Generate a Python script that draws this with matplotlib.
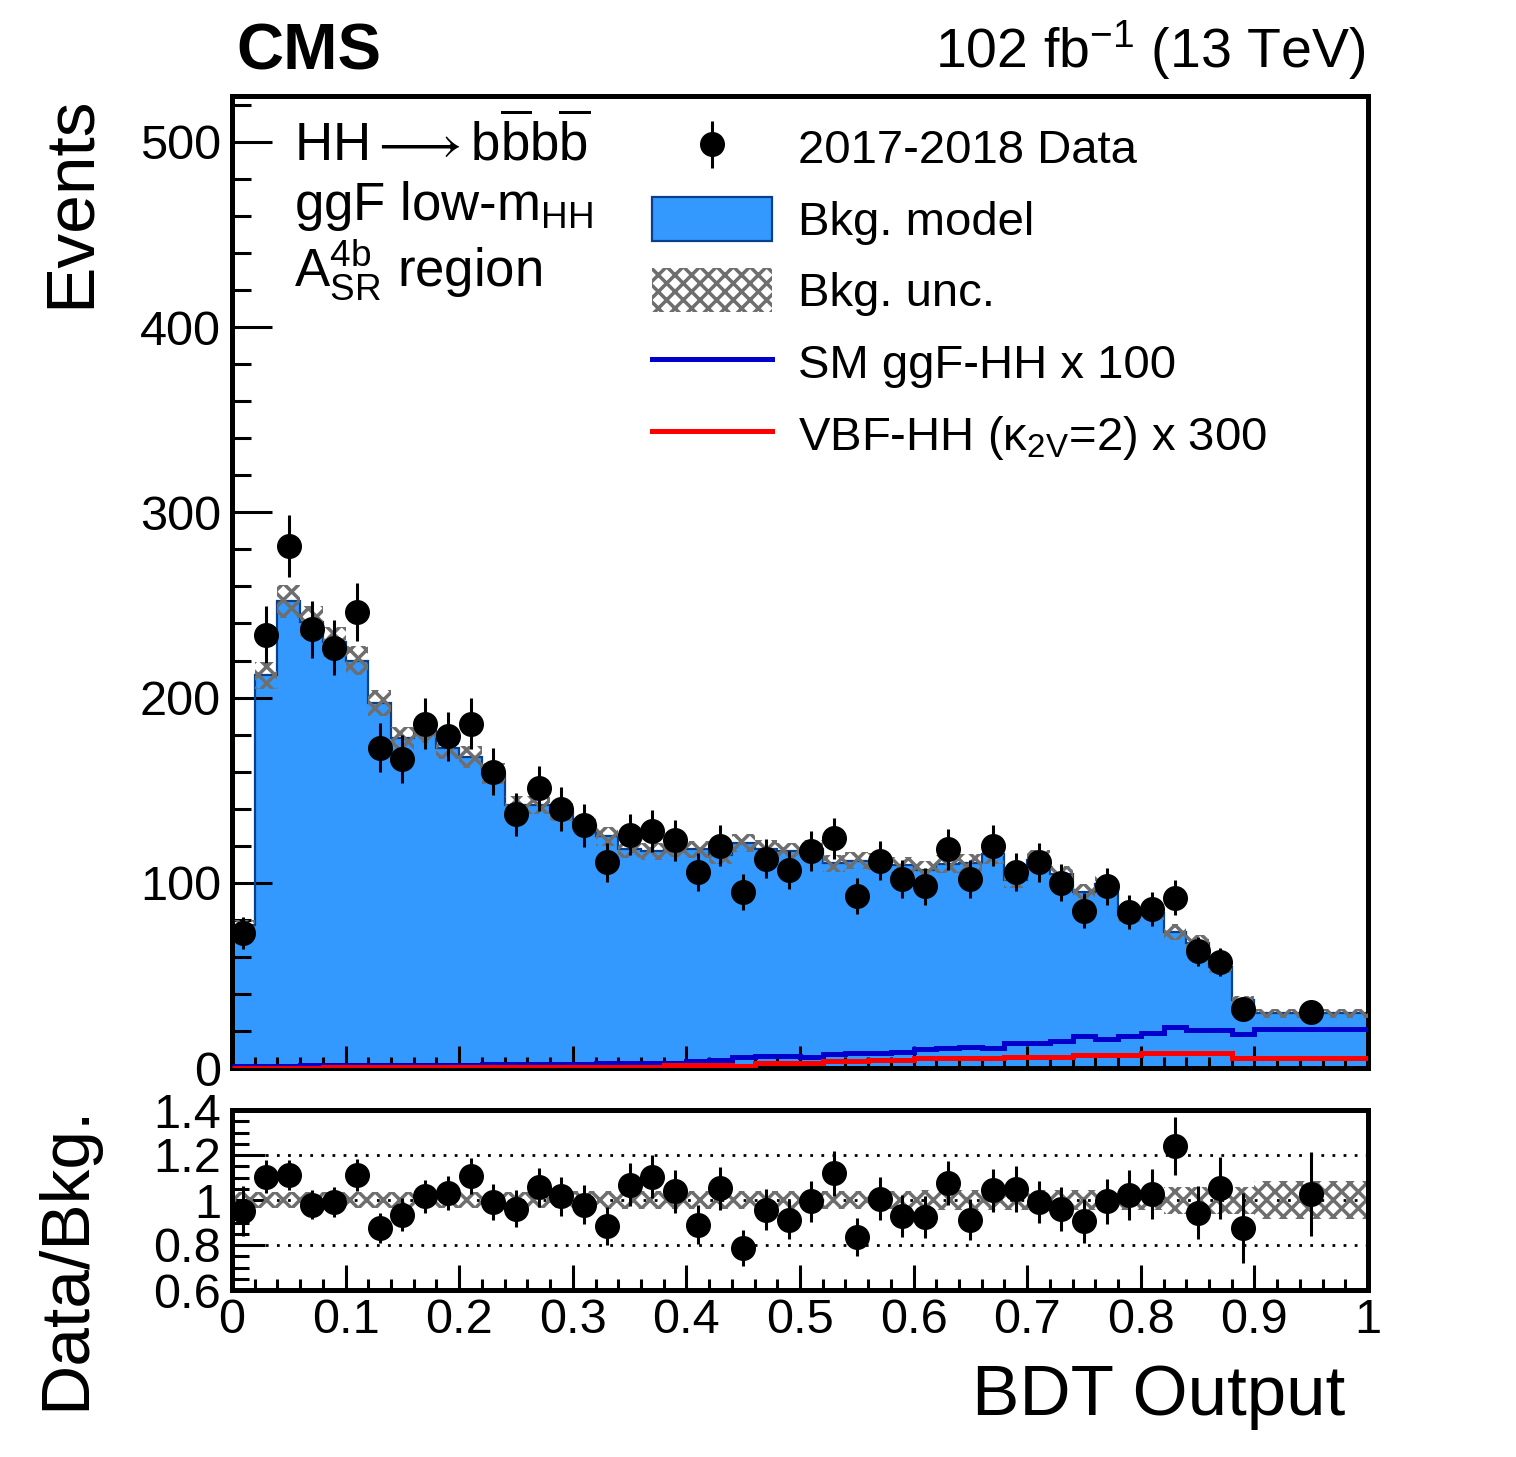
import numpy as np
import matplotlib
matplotlib.use('Agg')
import matplotlib.pyplot as plt
from matplotlib.patches import Patch
from matplotlib.lines import Line2D
from matplotlib.ticker import MultipleLocator, FormatStrFormatter

plt.rcParams['font.family'] = ['Liberation Sans', 'DejaVu Sans']
plt.rcParams['mathtext.fontset'] = 'custom'
plt.rcParams['mathtext.rm'] = 'Liberation Sans'
plt.rcParams['mathtext.it'] = 'Liberation Sans:italic'
plt.rcParams['mathtext.bf'] = 'Liberation Sans:bold'
plt.rcParams['hatch.linewidth'] = 2.5

# binning: 0.02 wide up to 0.9, then one wide bin to 1
bin_edges = np.append(np.linspace(0.0, 0.9, 46), 1.0)
bin_centers = 0.5 * (bin_edges[:-1] + bin_edges[1:])

data_counts = [73, 234, 282, 237, 227, 246, 173, 167, 186, 179, 186, 160, 137, 151, 140, 131,
               111, 126, 128, 123, 106, 120, 95, 113, 107, 117, 124, 93, 112, 102, 98, 118,
               102, 120, 106, 111, 100, 85, 98, 84, 86, 92, 63, 57, 32, 30]

bkg_model = [77, 212, 252, 241, 230, 220, 197, 178, 182, 173, 168, 159, 142, 142, 138, 131,
             125, 118, 117, 118.5, 118, 115, 121.5, 118.5, 117, 118.5, 110.5, 112, 111.5, 109.5,
             107, 110, 110.5, 115.5, 101.5, 112.5, 104.5, 95, 99.5, 82.5, 83.5, 73.5, 67.5,
             54.5, 36.5, 29.5]

bkg_rel_unc = [0.035] * 15 + [0.04] * 15 + [0.045] * 11 + [0.06] * 4 + [0.085]

ggf_x100 = [1.2, 1.3, 1.3, 1.4, 1.4, 1.5, 1.5, 1.6, 1.6, 1.7, 1.8, 1.9, 2.0, 2.1, 2.2, 2.4,
            2.5, 2.6, 2.7, 2.8, 4.0, 4.3, 5.8, 6.3, 6.5, 5.8, 7.6, 8.0, 8.3, 8.8, 10.3, 10.8,
            11.2, 10.6, 13.7, 13.5, 14.8, 17.3, 15.5, 17.3, 18.7, 22.0, 20.5, 20.5, 18.4, 21.0]

vbf_x300 = [0.2, 0.2, 0.2, 0.2, 0.3, 0.3, 0.3, 0.3, 0.4, 0.4, 0.4, 0.5, 0.5, 0.5, 0.6, 0.6,
            0.7, 0.7, 0.7, 1.5, 1.5, 1.5, 1.3, 2.5, 2.5, 2.6, 3.7, 3.7, 4.5, 4.5, 5.3, 5.3,
            5.3, 5.3, 5.8, 5.8, 5.8, 7.0, 7.0, 7.0, 7.9, 7.9, 8.2, 8.2, 5.2, 5.2]

ratio_vals = [0.953, 1.104, 1.112, 0.979, 0.991, 1.112, 0.876, 0.935, 1.016, 1.031, 1.107,
              0.991, 0.962, 1.057, 1.016, 0.979, 0.884, 1.068, 1.104, 1.038, 0.891, 1.053,
              0.785, 0.957, 0.913, 0.994, 1.119, 0.835, 1.006, 0.928, 0.925, 1.075, 0.913,
              1.043, 1.049, 0.991, 0.960, 0.906, 0.994, 1.024, 1.028, 1.240, 0.943, 1.053,
              0.876, 1.026]

data = np.array(data_counts, dtype=float)
bkg = np.array(bkg_model)
rel = np.array(bkg_rel_unc)
data_err = np.sqrt(data)
ratio_err = data_err / bkg

blue_fill = '#3399ff'
blue_edge = '#0a3f8a'
hatch_col = '#6e6e6e'

W, H = 1516, 1457
fig = plt.figure(figsize=(W / 100, H / 100), dpi=100)
ax = fig.add_axes([232 / W, 1 - 1068 / H, 1136 / W, 972 / H])
rax = fig.add_axes([232 / W, 1 - 1290 / H, 1136 / W, 180 / H])

# main panel
ax.stairs(bkg, bin_edges, fill=True, color=blue_fill, zorder=1)
ax.stairs(bkg, bin_edges, color=blue_edge, lw=1.6, zorder=2)
ax.stairs(bkg * (1 + rel), bin_edges, baseline=bkg * (1 - rel), fill=True,
          facecolor='none', edgecolor=hatch_col, hatch='xx', lw=0, zorder=3)
ax.stairs(ggf_x100, bin_edges, baseline=None, color='#0000cc', lw=3.6, zorder=4)
ax.stairs(vbf_x300, bin_edges, baseline=None, color='#ff0000', lw=3.6, zorder=4)
ax.errorbar(bin_centers, data, yerr=data_err, fmt='o', color='black', ms=17,
            elinewidth=2.2, capsize=0, zorder=6)

ax.set_xlim(0, 1)
ax.set_ylim(0, 524.8)
ax.xaxis.set_major_locator(MultipleLocator(0.1))
ax.xaxis.set_minor_locator(MultipleLocator(0.02))
ax.yaxis.set_major_locator(MultipleLocator(100))
ax.yaxis.set_minor_locator(MultipleLocator(20))
ax.tick_params(axis='both', which='both', direction='in', top=False, right=False,
               labelsize=35, width=2.2)
ax.tick_params(axis='y', which='major', length=29, pad=8)
ax.tick_params(axis='y', which='minor', length=14)
ax.tick_params(axis='x', which='major', length=16)
ax.tick_params(axis='x', which='minor', length=8)
ax.tick_params(axis='x', labelbottom=False)
for s in ax.spines.values():
    s.set_linewidth(3.6)
ax.set_ylabel('Events', fontsize=50, loc='top')
ax.yaxis.set_label_coords(-0.114, 1.0)

# legend
data_proxy = ax.errorbar([], [], yerr=[], fmt='o', color='black', ms=17,
                         elinewidth=2.2, capsize=10, capthick=2.2)
handles = [
    data_proxy,
    Patch(facecolor=blue_fill, edgecolor=blue_edge, lw=1.6),
    Patch(facecolor='white', edgecolor=hatch_col, hatch='xx', lw=0),
    Line2D([], [], color='#0000cc', lw=3.6),
    Line2D([], [], color='#ff0000', lw=3.6),
]
labels = ['2017-2018 Data', 'Bkg. model', 'Bkg. unc.', 'SM ggF-HH x 100',
          r'VBF-HH (κ$_{\mathrm{2V}}$=2) x 300']
ax.legend(handles, labels, loc='upper left', bbox_to_anchor=(0.3697, 0.97),
          frameon=False, fontsize=34, borderpad=0, borderaxespad=0,
          handlelength=2.55, handleheight=1.05, handletextpad=0.55, labelspacing=0.5)

# region text
ax.text(0.055, 0.934,
        r'$\mathrm{HH}\longrightarrow\mathrm{b}\overline{\mathrm{b}}\mathrm{b}\overline{\mathrm{b}}$',
        transform=ax.transAxes, fontsize=38, va='baseline')
ax.text(0.055, 0.872, r'ggF low-m$_{\mathrm{HH}}$', transform=ax.transAxes,
        fontsize=38, va='baseline')
ax.text(0.055, 0.805, r'A$^{\mathrm{4b}}_{\mathrm{SR}}$ region', transform=ax.transAxes,
        fontsize=38, va='baseline')

fig.text(236 / W, 1 - 70 / H, 'CMS', fontsize=47, fontweight='bold', ha='left', va='baseline')
fig.text(1365 / W, 1 - 68 / H, r'102 fb$^{\mathrm{-1}}$ (13 TeV)', fontsize=40,
         ha='right', va='baseline')

# ratio panel
for yv in (0.8, 1.0, 1.2):
    rax.axhline(yv, color='black', ls=(0, (1, 3)), lw=2, zorder=1)
rax.stairs(1 + rel, bin_edges, baseline=1 - rel, fill=True, facecolor='none',
           edgecolor=hatch_col, hatch='xx', lw=0, zorder=2)
rax.errorbar(bin_centers, ratio_vals, yerr=ratio_err, fmt='o', color='black', ms=17,
             elinewidth=2.2, capsize=0, zorder=5)
rax.set_xlim(0, 1)
rax.set_ylim(0.6, 1.4)
rax.xaxis.set_major_locator(MultipleLocator(0.1))
rax.xaxis.set_minor_locator(MultipleLocator(0.02))
rax.yaxis.set_major_locator(MultipleLocator(0.2))
rax.yaxis.set_minor_locator(MultipleLocator(0.05))
rax.xaxis.set_major_formatter(FormatStrFormatter('%g'))
rax.yaxis.set_major_formatter(FormatStrFormatter('%g'))
rax.tick_params(axis='both', which='both', direction='in', top=False, right=False,
                labelsize=35, width=2.2)
rax.tick_params(axis='y', which='major', length=24, pad=8)
rax.tick_params(axis='y', which='minor', length=12)
rax.tick_params(axis='x', which='major', length=18, pad=6)
rax.tick_params(axis='x', which='minor', length=8)
for s in rax.spines.values():
    s.set_linewidth(3.6)
rax.set_ylabel('Data/Bkg.', fontsize=50, loc='top')
rax.yaxis.set_label_coords(-0.118, 1.03)
rax.set_xlabel('BDT Output', fontsize=51, loc='right')
rax.xaxis.set_label_coords(0.98, -0.41)

fig.savefig('out.png', dpi=100)
